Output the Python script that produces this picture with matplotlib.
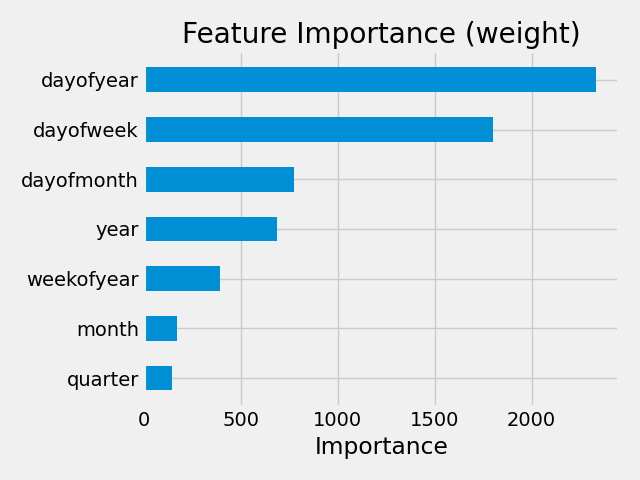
import matplotlib
matplotlib.use("Agg")
import matplotlib.pyplot as plt
import pandas as pd

plt.style.use('fivethirtyeight')

features = ['quarter', 'month', 'weekofyear', 'year', 'dayofmonth', 'dayofweek', 'dayofyear']
importance = [144, 170, 393, 689, 777, 1799, 2334]

fi = pd.DataFrame({'Importance': importance}, index=features)

fig, ax = plt.subplots(figsize=(6.4, 4.8), dpi=100)
fi.plot(kind='barh', ax=ax, legend=False, title='Feature Importance (weight)')
ax.set_ylim(-0.575, len(features) - 0.425)
ax.set_xlabel('Importance')
plt.tight_layout()
plt.savefig('out.png')
